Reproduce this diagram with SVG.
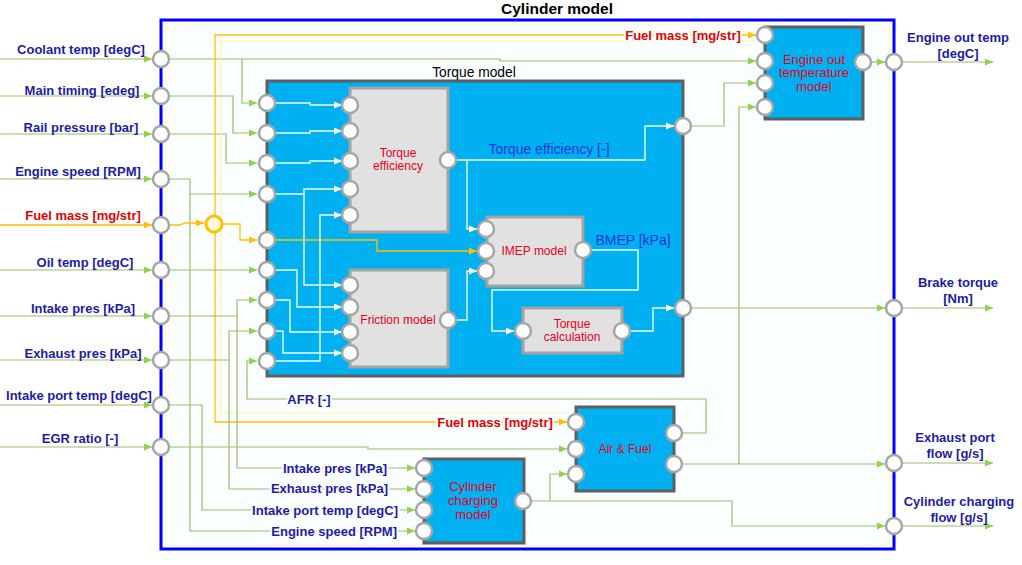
<svg xmlns="http://www.w3.org/2000/svg" width="1022" height="565" viewBox="0 0 1022 565">
<defs>
<style>
text{font-family:"Liberation Sans",Arial,sans-serif}
.port{fill:#fff;stroke:#a6a6a6;stroke-width:2.5}
.jn{fill:#fff8e0;stroke:#ffc000;stroke-width:3}
.blue{fill:#00b0f0;stroke:#5f5f5f;stroke-width:3}
.gray{fill:#e1e1e1;stroke:#a3a3a3;stroke-width:3}
.cg{fill:none;stroke:#9dbb68;stroke-width:1.2}
.cy{fill:none;stroke:#ffc000;stroke-width:1.3}
.cp{fill:none;stroke:#fff3a8;stroke-width:1.2}
.cw{fill:none;stroke:#eafcff;stroke-width:1.4}
.mg{marker-end:url(#ag)}
.my{marker-end:url(#ay)}
.mw{marker-end:url(#aw)}
.lbl{font-size:13px;font-weight:bold;fill:#1c1ca8;text-anchor:middle}
.end{text-anchor:end}
.lr{fill:#e60000}
.halo{paint-order:stroke;stroke:#fafefe;stroke-width:4px;stroke-linejoin:round}
.bt{font-size:12px;fill:#e8001c;text-anchor:middle}
.bb{font-size:13px}
.sig{font-size:14px;fill:#1a38d8;text-anchor:middle}
</style>
<marker id="ag" viewBox="0 0 8 8" refX="8" refY="4" markerWidth="8" markerHeight="8" markerUnits="userSpaceOnUse" orient="auto"><path d="M0,0.5 L8,4 L0,7.5z" fill="#92d050"/></marker>
<marker id="ay" viewBox="0 0 8 8" refX="8" refY="4" markerWidth="8" markerHeight="8" markerUnits="userSpaceOnUse" orient="auto"><path d="M0,0.5 L8,4 L0,7.5z" fill="#ffc000"/></marker>
<marker id="aw" viewBox="0 0 8 8" refX="8" refY="4" markerWidth="8" markerHeight="8" markerUnits="userSpaceOnUse" orient="auto"><path d="M0,0.5 L8,4 L0,7.5z" fill="#ffffff"/></marker>
</defs>
<rect x="0" y="0" width="1022" height="565" fill="#ffffff"/>

<g id="cylinder-model">
<rect x="161" y="20" width="733" height="529" fill="#fafefe" stroke="#0000ff" stroke-width="3"/>
<rect x="165" y="24" width="725" height="521" fill="none" stroke="#fff6c0" stroke-width="1"/>
<text x="557" y="14" font-size="15.5" font-weight="bold" fill="#000" text-anchor="middle">Cylinder model</text>
</g>

<g id="torque-model">
<rect x="267" y="81" width="416" height="295" class="blue"/>
<text x="474" y="77" font-size="13.8" fill="#000" text-anchor="middle">Torque model</text>
</g>

<g id="torque-efficiency">
<rect x="350" y="88" width="98" height="144" class="gray"/>
<text class="bt"><tspan x="398" y="157">Torque</tspan><tspan x="398" y="170">efficiency</tspan></text>
</g>
<g id="friction-model">
<rect x="350" y="270" width="98" height="97" class="gray"/>
<text class="bt" x="398" y="324">Friction model</text>
</g>
<g id="imep-model">
<rect x="487" y="217" width="96" height="69" class="gray"/>
<text class="bt" x="534" y="255">IMEP model</text>
</g>
<g id="torque-calculation">
<rect x="523" y="308" width="99" height="45" class="gray"/>
<text class="bt"><tspan x="572" y="328">Torque</tspan><tspan x="572" y="341">calculation</tspan></text>
</g>
<g id="engine-out-temperature-model">
<rect x="765" y="27" width="98" height="92" class="blue"/>
<text class="bt bb"><tspan x="814" y="64">Engine out</tspan><tspan x="814" y="77">temperature</tspan><tspan x="814" y="91">model</tspan></text>
</g>
<g id="air-fuel">
<rect x="576" y="407" width="98" height="84" class="blue"/>
<text class="bt" x="625" y="453" font-size="12.5">Air &amp; Fuel</text>
</g>
<g id="cylinder-charging-model">
<rect x="424" y="459" width="100" height="84" class="blue"/>
<text class="bt bb"><tspan x="473" y="491">Cylinder</tspan><tspan x="473" y="505">charging</tspan><tspan x="473" y="519">model</tspan></text>
</g>

<g id="connectors">
<path class="cg mg" d="M0,59 H152"/>
<path class="cg mg" d="M0,96 H152"/>
<path class="cg mg" d="M0,134 H152"/>
<path class="cg mg" d="M0,179 H152"/>
<path class="cy my" d="M0,225 H152"/>
<path class="cg mg" d="M0,270 H152"/>
<path class="cg mg" d="M0,316 H152"/>
<path class="cg mg" d="M0,360 H152"/>
<path class="cg mg" d="M0,405 H152"/>
<path class="cg mg" d="M0,447 H152"/>
<path class="cg mg" d="M169,59 H500 V61 H756"/>
<path class="cg mg" d="M242,59 V103 H257"/>
<path class="cg mg" d="M169,96 H233 V133 H257"/>
<path class="cg mg" d="M169,134 H226 V163 H257"/>
<path class="cg mg" d="M169,179 H190 V531 H415"/>
<path class="cg mg" d="M190,194 H257"/>
<path class="cp" d="M221,41 H756"/>
<path class="cp" d="M221,41 V413 H566"/>
<path class="cy my" d="M169,225 H180 L185,223 H204"/>
<path class="cy my" d="M222,224 H240 V240 H257"/>
<path class="cy my" d="M215,215 V35 H756"/>
<path class="cy my" d="M215,232 V422 H567"/>
<path class="cg mg" d="M169,270 H257"/>
<path class="cg mg" d="M169,316 H237 V300 H257"/>
<path class="cg mg" d="M237,316 V468 H415"/>
<path class="cg mg" d="M169,360 H229 V331 H257"/>
<path class="cg mg" d="M229,360 V489 H415"/>
<path class="cg mg" d="M169,405 H202 V510 H415"/>
<path class="cg mg" d="M169,447 H368 V449 H567"/>
<path class="cg mg" d="M682,433 H706 V399 H247 V361 H257"/>
<path class="cg mg" d="M531,501 H732 V526 H885"/>
<path class="cg mg" d="M550,501 V474 H567"/>
<path class="cg mg" d="M682,464 H885"/>
<path class="cg mg" d="M739,464 V107 H756"/>
<path class="cg mg" d="M691,126 H724 V83 H756"/>
<path class="cg mg" d="M691,308 H885"/>
<path class="cg mg" d="M871,62 H885"/>
<path class="cg mg" d="M902,62 H993"/>
<path class="cg mg" d="M902,308 H993"/>
<path class="cg mg" d="M902,463 H993"/>
<path class="cg mg" d="M902,526 H993"/>
<path class="cw mw" d="M275,103 H310 V105 H342"/>
<path class="cw mw" d="M275,133 H310 V131 H342"/>
<path class="cw mw" d="M275,163 H310 V161 H342"/>
<path class="cw mw" d="M275,194 H304 V189 H342"/>
<path class="cw mw" d="M304,194 V285 H342"/>
<path class="cy my" d="M275,240 H377 V251 H477"/>
<path class="cw mw" d="M275,270 H297 V307 H342"/>
<path class="cw mw" d="M275,300 H290 V332 H342"/>
<path class="cw mw" d="M275,331 H283 V353 H342"/>
<path class="cw mw" d="M275,361 H320 V215 H342"/>
<path class="cw mw" d="M456,160 H645 V126 H674"/>
<path class="cw mw" d="M467,160 V229 H477"/>
<path class="cw mw" d="M456,320 H467 V271 H477"/>
<path class="cw mw" d="M591,250 H638 V290 H492 V331 H514"/>
<path class="cw mw" d="M630,331 H653 V308 H674"/>
</g>

<g id="ports">
<circle class="port" cx="161" cy="59" r="8"/>
<circle class="port" cx="161" cy="96" r="8"/>
<circle class="port" cx="161" cy="134" r="8"/>
<circle class="port" cx="161" cy="179" r="8"/>
<circle class="port" cx="161" cy="225" r="8"/>
<circle class="port" cx="161" cy="270" r="8"/>
<circle class="port" cx="161" cy="316" r="8"/>
<circle class="port" cx="161" cy="360" r="8"/>
<circle class="port" cx="161" cy="405" r="8"/>
<circle class="port" cx="161" cy="447" r="8"/>
<circle class="port" cx="894" cy="62" r="8"/>
<circle class="port" cx="894" cy="308" r="8"/>
<circle class="port" cx="894" cy="463" r="8"/>
<circle class="port" cx="894" cy="526" r="8"/>
<circle class="jn" cx="214" cy="224" r="8"/>
<circle class="port" cx="267" cy="103" r="8"/>
<circle class="port" cx="267" cy="133" r="8"/>
<circle class="port" cx="267" cy="163" r="8"/>
<circle class="port" cx="267" cy="194" r="8"/>
<circle class="port" cx="267" cy="240" r="8"/>
<circle class="port" cx="267" cy="270" r="8"/>
<circle class="port" cx="267" cy="300" r="8"/>
<circle class="port" cx="267" cy="331" r="8"/>
<circle class="port" cx="267" cy="361" r="8"/>
<circle class="port" cx="683" cy="126" r="8"/>
<circle class="port" cx="683" cy="308" r="8"/>
<circle class="port" cx="350" cy="105" r="8"/>
<circle class="port" cx="350" cy="131" r="8"/>
<circle class="port" cx="350" cy="161" r="8"/>
<circle class="port" cx="350" cy="189" r="8"/>
<circle class="port" cx="350" cy="215" r="8"/>
<circle class="port" cx="448" cy="160" r="8"/>
<circle class="port" cx="350" cy="285" r="8"/>
<circle class="port" cx="350" cy="307" r="8"/>
<circle class="port" cx="350" cy="332" r="8"/>
<circle class="port" cx="350" cy="353" r="8"/>
<circle class="port" cx="448" cy="320" r="8"/>
<circle class="port" cx="486" cy="229" r="8"/>
<circle class="port" cx="486" cy="251" r="8"/>
<circle class="port" cx="486" cy="271" r="8"/>
<circle class="port" cx="583" cy="250" r="8"/>
<circle class="port" cx="523" cy="331" r="8"/>
<circle class="port" cx="622" cy="331" r="8"/>
<circle class="port" cx="765" cy="35" r="8"/>
<circle class="port" cx="765" cy="61" r="8"/>
<circle class="port" cx="765" cy="83" r="8"/>
<circle class="port" cx="765" cy="107" r="8"/>
<circle class="port" cx="863" cy="62" r="8"/>
<circle class="port" cx="576" cy="422" r="8"/>
<circle class="port" cx="576" cy="449" r="8"/>
<circle class="port" cx="576" cy="474" r="8"/>
<circle class="port" cx="674" cy="433" r="8"/>
<circle class="port" cx="674" cy="464" r="8"/>
<circle class="port" cx="424" cy="468" r="8"/>
<circle class="port" cx="424" cy="489" r="8"/>
<circle class="port" cx="424" cy="510" r="8"/>
<circle class="port" cx="424" cy="531" r="8"/>
<circle class="port" cx="523" cy="501" r="8"/>
</g>

<g id="labels">
<text class="lbl" x="81" y="54">Coolant temp [degC]</text>
<text class="lbl" x="82" y="95">Main timing [edeg]</text>
<text class="lbl" x="81" y="132">Rail pressure [bar]</text>
<text class="lbl" x="78" y="176">Engine speed [RPM]</text>
<text class="lbl lr" x="83" y="220">Fuel mass [mg/str]</text>
<text class="lbl" x="85" y="267">Oil temp [degC]</text>
<text class="lbl" x="83" y="313">Intake pres [kPa]</text>
<text class="lbl" x="83" y="358">Exhaust pres [kPa]</text>
<text class="lbl" x="79" y="400">Intake port temp [degC]</text>
<text class="lbl" x="80" y="443">EGR ratio [-]</text>
<text class="lbl"><tspan x="958" y="42">Engine out temp</tspan><tspan x="958" y="58">[degC]</tspan></text>
<text class="lbl"><tspan x="958" y="287">Brake torque</tspan><tspan x="958" y="303">[Nm]</tspan></text>
<text class="lbl"><tspan x="955" y="442">Exhaust port</tspan><tspan x="955" y="458">flow [g/s]</tspan></text>
<text class="lbl"><tspan x="959" y="506">Cylinder charging</tspan><tspan x="959" y="522">flow [g/s]</tspan></text>
<text class="lbl lr halo" x="683" y="40">Fuel mass [mg/str]</text>
<text class="lbl lr halo" x="495" y="427">Fuel mass [mg/str]</text>
<text class="lbl halo" x="309" y="404">AFR [-]</text>
<text class="lbl end halo" x="387" y="473">Intake pres [kPa]</text>
<text class="lbl end halo" x="388" y="493">Exhaust pres [kPa]</text>
<text class="lbl end halo" x="398" y="515">Intake port temp [degC]</text>
<text class="lbl end halo" x="397" y="536">Engine speed [RPM]</text>
<text class="sig" x="549" y="154">Torque efficiency [-]</text>
<text class="sig" x="633" y="245">BMEP [kPa]</text>
</g>
</svg>
